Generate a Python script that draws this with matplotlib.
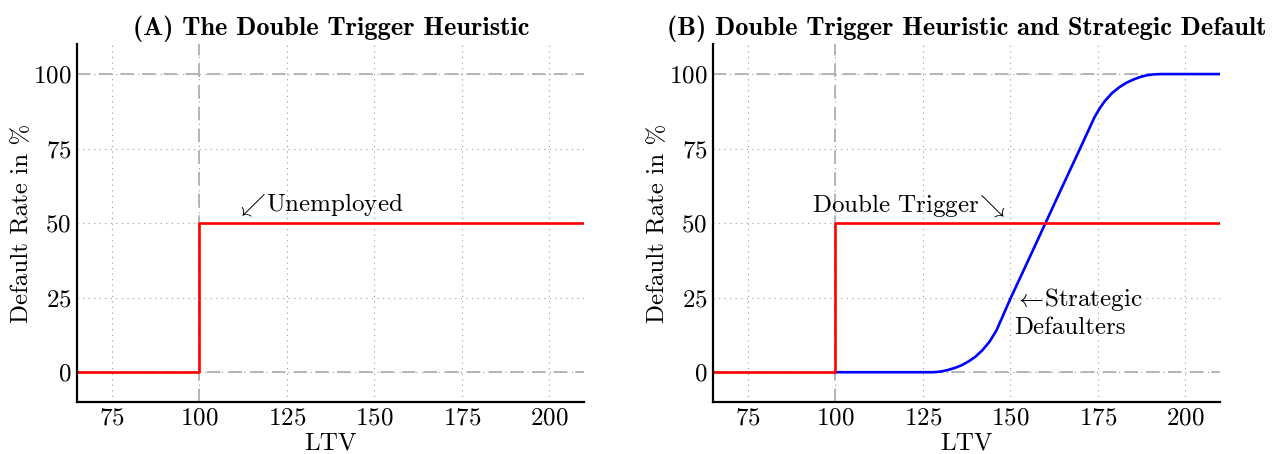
import matplotlib
matplotlib.use("Agg")
import matplotlib.pyplot as plt
import numpy as np

plt.rcParams['font.family'] = 'serif'
plt.rcParams['font.serif'] = ['cmr10']
plt.rcParams['mathtext.fontset'] = 'cm'
plt.rcParams['axes.formatter.use_mathtext'] = True

# double trigger: step at LTV 100
trigger_x = [65, 100, 100, 210]
trigger_y = [0, 0, 50, 50]

# strategic defaulters
strategic_x = [100, 125, 128, 130, 132, 134, 136, 138, 140, 142, 144, 146,
               150, 155, 160, 165, 170, 174, 175.5, 177, 179, 181, 183,
               185, 187, 189, 191, 193, 210]
strategic_y = [0, 0, 0, 0.2, 0.7, 1.4, 2.3, 3.6, 5.2, 7.4, 10.2, 14.0,
               24.7, 37.3, 50, 62.7, 75.3, 85.5, 88.5, 91.0, 93.6, 95.5, 97.0,
               98.1, 99.0, 99.6, 99.9, 100, 100]

xticks = [75, 100, 125, 150, 175, 200]
yticks = [0, 25, 50, 75, 100]
titles = ['(A) The Double Trigger Heuristic',
          '(B) Double Trigger Heuristic and Strategic Default']

fs = 18

fig = plt.figure(figsize=(12.75, 4.54), dpi=100)
ax1 = fig.add_axes([0.0604, 0.1145, 0.398, 0.788])
ax2 = fig.add_axes([0.5592, 0.1145, 0.398, 0.788])

for ax, title in zip([ax1, ax2], titles):
    ax.set_xlim(65, 210)
    ax.set_ylim(-10, 110)
    ax.set_xticks(xticks)
    ax.set_yticks(yticks)
    ax.tick_params(length=0, labelsize=fs, pad=4)
    ax.grid(True, linestyle=(0, (1, 4)), color='#999999', linewidth=0.8)
    ax.axhline(0, color='#aaaaaa', linestyle=(0, (8, 5)), linewidth=1.2)
    ax.axhline(100, color='#aaaaaa', linestyle=(0, (8, 5)), linewidth=1.2)
    ax.axvline(100, color='#aaaaaa', linestyle=(0, (8, 5)), linewidth=1.2)
    ax.spines['top'].set_visible(False)
    ax.spines['right'].set_visible(False)
    ax.spines['left'].set_linewidth(1.6)
    ax.spines['bottom'].set_linewidth(1.6)
    ax.set_xlabel('LTV', fontsize=fs, labelpad=2)
    ax.set_ylabel('Default Rate in %', fontsize=fs, labelpad=0)
    ax.set_title(title, fontsize=19, fontfamily='cmb10', pad=7)

ax1.plot(trigger_x, trigger_y, color='red', linewidth=1.9)
ax1.text(110.3, 56, r'$\swarrow\!$Unemployed', fontsize=fs, va='center')

ax2.plot(strategic_x, strategic_y, color='blue', linewidth=1.9)
ax2.plot(trigger_x, trigger_y, color='red', linewidth=1.9)
ax2.text(93.3, 56, r'Double Trigger$\!\searrow$', fontsize=fs, va='center')
ax2.text(151.0, 24.3, r'$\leftarrow\!$Strategic', fontsize=fs, va='center')
ax2.text(151.0, 15, 'Defaulters', fontsize=fs, va='center')

fig.savefig('out.png', dpi=100)
